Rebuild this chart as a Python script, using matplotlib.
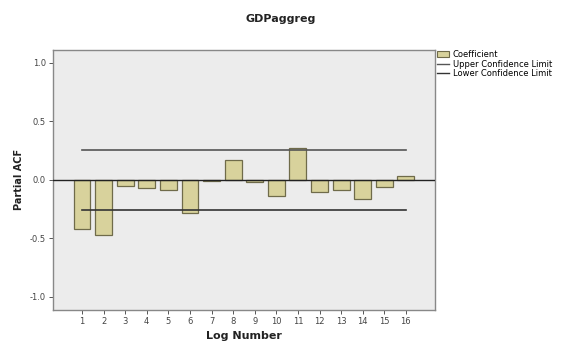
import matplotlib
matplotlib.use("Agg")
import matplotlib.pyplot as plt
from matplotlib.patches import Patch
from matplotlib.lines import Line2D

lags = list(range(1, 17))
pacf = [-0.42, -0.47, -0.05, -0.07, -0.09, -0.28, -0.01, 0.17,
        -0.02, -0.14, 0.27, -0.10, -0.09, -0.16, -0.06, 0.03]
upper_conf = 0.255
lower_conf = -0.26
yticks = [-1.0, -0.5, 0.0, 0.5, 1.0]
ytick_labels = ["-1.0", "-0.5", "0.0", "0.5", "1.0"]

bar_color = "#d8d29c"
edge_color = "#6f6b4a"

fig = plt.figure(figsize=(5.64, 3.47), dpi=100)
ax = fig.add_axes([0.094, 0.107, 0.677, 0.749])
ax.set_facecolor("#ececec")

ax.bar(lags, pacf, width=0.78, color=bar_color, edgecolor=edge_color, linewidth=0.9, zorder=2)
ax.axhline(0, color="#222222", linewidth=1.0, zorder=3)
ax.plot([lags[0], lags[-1]], [upper_conf, upper_conf], color="#555555", linewidth=1.2, zorder=3)
ax.plot([lags[0], lags[-1]], [lower_conf, lower_conf], color="#333333", linewidth=1.2, zorder=3)

ax.set_xlim(-0.34, 17.34)
ax.set_ylim(-1.11, 1.11)
ax.set_xticks(lags)
ax.set_xticklabels([str(l) for l in lags], fontsize=6)
ax.set_yticks(yticks)
ax.set_yticklabels(ytick_labels, fontsize=6)
ax.tick_params(axis="both", length=3, width=0.7, color="#555555", labelcolor="#444444", pad=2)
for s in ax.spines.values():
    s.set_color("#888888")
    s.set_linewidth(1.0)

ax.set_xlabel("Log Number", fontsize=8, fontweight="bold", color="#222222", labelpad=4)
ax.set_ylabel("Partial ACF", fontsize=7, fontweight="bold", color="#222222", labelpad=4)
fig.text(0.497, 0.945, "GDPaggreg", ha="center", va="center", fontsize=8,
         fontweight="bold", color="#222222")

handles = [
    Patch(facecolor=bar_color, edgecolor=edge_color, linewidth=0.8),
    Line2D([0], [0], color="#555555", linewidth=1.0),
    Line2D([0], [0], color="#333333", linewidth=1.0),
]
labels = ["Coefficient", "Upper Confidence Limit", "Lower Confidence Limit"]
fig.legend(handles, labels, loc="upper left", bbox_to_anchor=(0.775, 0.855),
           fontsize=6, frameon=False, handlelength=1.4, handletextpad=0.5,
           labelspacing=0.05, borderaxespad=0, borderpad=0)

fig.savefig("out.png", dpi=100)
